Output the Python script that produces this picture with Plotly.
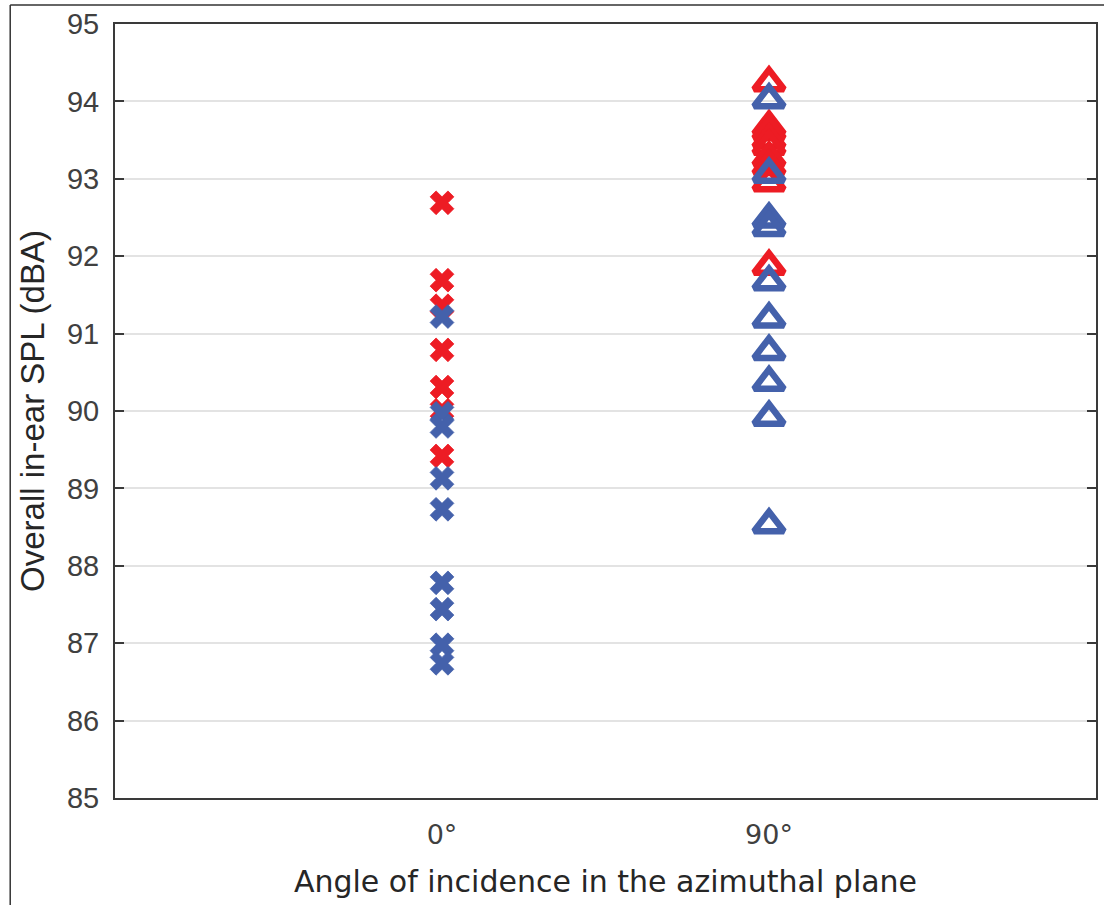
import plotly.graph_objects as go

angles = ["0°", "90°"]
angle_pos = [1, 2]

red_0 = [92.69, 91.69, 91.36, 90.79, 90.31, 90.01, 89.42]
blue_0 = [91.22, 89.97, 89.80, 89.13, 88.73, 87.78, 87.44, 86.98, 86.74]
red_90 = [94.24, 93.67, 93.61, 93.50, 93.42, 93.27, 93.16, 92.95, 91.87]
blue_90 = [94.02, 93.06, 92.48, 92.37, 91.67, 91.19, 90.77, 90.37, 89.92, 88.53]

y_ticks = [85, 86, 87, 88, 89, 90, 91, 92, 93, 94, 95]

RED = "#ED1C24"
BLUE = "#4461AB"
AX = "#3a3a3a"

fig = go.Figure()

def add_x(vals, color):
    fig.add_trace(go.Scatter(
        x=[angle_pos[0]] * len(vals), y=vals, mode="markers",
        marker=dict(symbol="x", size=21, color=color,
                    line=dict(width=0.8, color=color)),
        showlegend=False))

def add_tri(vals, color):
    fig.add_trace(go.Scatter(
        x=[angle_pos[1]] * len(vals), y=vals, mode="markers",
        marker=dict(symbol="triangle-up-open", size=26, color=color,
                    line=dict(width=6.5, color=color)),
        showlegend=False))

add_x(red_0, RED)
add_x(blue_0, BLUE)
add_tri(red_90, RED)
add_tri(blue_90, BLUE)

L, R, T, B = 115, 6, 24, 107
PW = 1104 - L - R
PH = 905 - T - B

fig.update_layout(
    width=1104, height=905,
    margin=dict(l=L, r=R, t=T, b=B),
    paper_bgcolor="white", plot_bgcolor="white",
    xaxis=dict(
        range=[0, 3], tickvals=angle_pos, ticktext=angles,
        showgrid=False, zeroline=False,
        showline=True, linecolor=AX, linewidth=2, mirror=True,
        ticks="", ticklabelstandoff=12,
        tickfont=dict(family="DejaVu Sans", size=27, color="#404040"),
        title=dict(text="Angle of incidence in the azimuthal plane",
                   font=dict(family="DejaVu Sans", size=30, color="#262626"),
                   standoff=22),
    ),
    yaxis=dict(
        range=[85, 95], tickvals=y_ticks,
        showgrid=True, gridcolor="#e3e3e3", gridwidth=2, zeroline=False,
        showline=True, linecolor=AX, linewidth=2, mirror="ticks",
        ticks="inside", ticklen=9, tickwidth=2, tickcolor=AX,
        ticklabelstandoff=8,
        tickfont=dict(family="Liberation Sans", size=29, color="#404040"),
        title=dict(text="Overall in-ear SPL (dBA)",
                   font=dict(family="Liberation Sans", size=33, color="#262626"),
                   standoff=12),
    ),
    shapes=[
        dict(type="line", xref="paper", yref="paper",
             x0=(10 - L) / PW, x1=(10 - L) / PW,
             y0=1 + (T - 5) / PH, y1=-B / PH - 0.01,
             line=dict(color="#333333", width=1.5)),
        dict(type="line", xref="paper", yref="paper",
             x0=(10 - L) / PW, x1=1 + R / PW + 0.01,
             y0=1 + (T - 5) / PH, y1=1 + (T - 5) / PH,
             line=dict(color="#333333", width=1.5)),
    ],
)

fig.write_html("out.html", config={"displayModeBar": False},
               post_script="document.body.style.margin='0';")
